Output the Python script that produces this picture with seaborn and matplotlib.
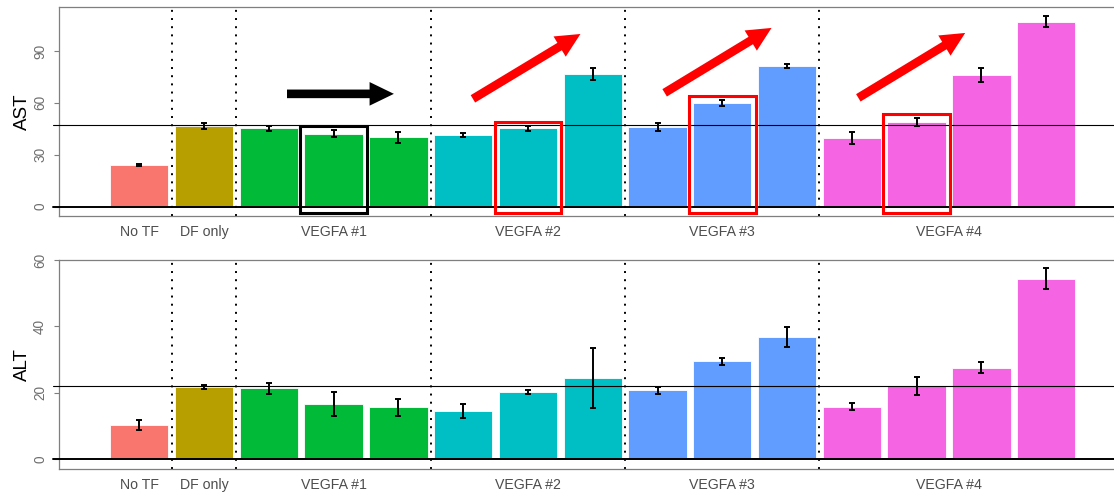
import numpy as np
import pandas as pd
import matplotlib
matplotlib.use("Agg")
import matplotlib.pyplot as plt
from matplotlib.patches import Rectangle
import seaborn as sns

# Treatment groups and the bars belonging to each
groups = ["No TF", "DF only", "VEGFA #1", "VEGFA #2", "VEGFA #3", "VEGFA #4"]
bar_group = ["No TF", "DF only",
             "VEGFA #1", "VEGFA #1", "VEGFA #1",
             "VEGFA #2", "VEGFA #2", "VEGFA #2",
             "VEGFA #3", "VEGFA #3", "VEGFA #3",
             "VEGFA #4", "VEGFA #4", "VEGFA #4", "VEGFA #4"]
bar_ids = ["No TF", "DF only",
           "V1-1", "V1-2", "V1-3",
           "V2-1", "V2-2", "V2-3",
           "V3-1", "V3-2", "V3-3",
           "V4-1", "V4-2", "V4-3", "V4-4"]

# Measured means and error half-widths
ast_mean = [24.0, 46.6, 45.4, 42.1, 40.0, 41.5, 45.2, 76.5, 46.2, 60.0, 81.2, 39.8, 49.0, 76.0, 106.9]
ast_err = [0.5, 1.5, 1.5, 2.1, 3.0, 1.2, 1.3, 3.4, 2.2, 1.9, 1.3, 3.3, 2.2, 4.2, 3.3]
alt_mean = [10.2, 21.7, 21.3, 16.5, 15.5, 14.5, 20.1, 24.5, 20.7, 29.4, 36.8, 15.7, 22.0, 27.5, 54.3]
alt_err = [1.6, 0.6, 1.6, 3.55, 2.5, 2.05, 0.6, 9.05, 1.0, 1.15, 3.1, 1.0, 2.7, 1.6, 3.2]

# Reference levels (horizontal lines)
ast_ref = 47.2
alt_ref = 22.0

# Highlighted bars: (bar id, frame colour)
highlights = [("V1-2", "black"), ("V2-2", "red"), ("V3-2", "red"), ("V4-2", "red")]
# Trend arrows on the AST panel: (tail x, tail y, head x, head y, colour)
arrows = [(2.28, 65.2, 3.93, 65.2, "black"),
          (5.15, 62.3, 6.81, 99.8, "red"),
          (8.11, 65.8, 9.76, 103.3, "red"),
          (11.10, 62.9, 12.75, 100.4, "red")]

palette = dict(zip(groups, ["#F8766D", "#B79F00", "#00BA38", "#00BFC4", "#619CFF", "#F564E3"]))

df = pd.DataFrame({"bar": bar_ids, "group": bar_group,
                   "AST": ast_mean, "AST_err": ast_err,
                   "ALT": alt_mean, "ALT_err": alt_err})

sns.set_theme(style="white")
plt.rcParams["font.family"] = ["Liberation Sans", "DejaVu Sans"]

FRAME = "#7F7F7F"
TEXT = "#4D4D4D"

fig = plt.figure(figsize=(11.14, 4.92), dpi=100)
W, H = 1114, 492
ax_top = fig.add_axes([59 / W, 1 - 216 / H, 1067.5 / W, 209 / H])
ax_bot = fig.add_axes([59 / W, 1 - 468.7 / H, 1067.5 / W, 208.7 / H])

positions = np.arange(len(bar_ids))
tick_pos = [positions[np.array(bar_group) == g].mean() for g in groups]
boundaries = [i + 0.5 for i in range(len(bar_group) - 1) if bar_group[i] != bar_group[i + 1]]


def draw_panel(ax, col, ref, ylim, yticks):
    sns.barplot(data=df, x="bar", y=col, hue="group", order=bar_ids, hue_order=groups,
                palette=palette, dodge=False, width=0.9, saturation=1, errorbar=None,
                legend=False, edgecolor="white", linewidth=0.6, ax=ax, zorder=2)
    ax.errorbar(positions, df[col], yerr=df[col + "_err"], fmt="none", ecolor="black",
                elinewidth=1.4, capsize=2.2, capthick=1.4, zorder=4)
    for b in boundaries:
        ax.axvline(b, color="black", linestyle=(0, (1, 3.2)), linewidth=1.4, zorder=1)
    ax.axhline(0, xmin=-0.0055, xmax=1, color="black", linewidth=1.4, clip_on=False, zorder=3)
    ax.axhline(ref, xmin=-0.0055, xmax=1, color="black", linewidth=0.8, clip_on=False, zorder=3)
    ax.set_xlim(-1.24, 15.24)
    ax.set_ylim(*ylim)
    ax.set_yticks(yticks)
    ax.set_yticklabels([str(t) for t in yticks], rotation=90, va="center")
    ax.set_xticks(tick_pos)
    ax.set_xticklabels(groups)
    ax.set_xlabel("")
    ax.set_ylabel(col, fontsize=13.5, color="black")
    ax.yaxis.set_label_coords(-0.0262, 0.5)
    ax.tick_params(axis="x", length=0, pad=6.5, labelsize=10.2, labelcolor=TEXT)
    ax.tick_params(axis="y", length=3.6, width=0.8, color=FRAME, pad=5.0,
                   labelsize=9.8, labelcolor="#6E6E6E", left=True)
    for side in ["top", "left", "bottom"]:
        ax.spines[side].set_visible(True)
        ax.spines[side].set_color(FRAME)
        ax.spines[side].set_linewidth(0.9)
    ax.spines["right"].set_visible(False)


draw_panel(ax_top, "AST", ast_ref, (-5.4, 115.4), [0, 30, 60, 90])
draw_panel(ax_bot, "ALT", alt_ref, (-3.0, 60.0), [0, 20, 40, 60])

# Frames around the highlighted bars
for bar, color in highlights:
    i = bar_ids.index(bar)
    top = ast_mean[i] + ast_err[i] + 2.2
    ax_top.add_patch(Rectangle((i - 0.515, -3.75), 1.03, top + 3.75, fill=False,
                               edgecolor=color, linewidth=2.2, zorder=5, clip_on=False))

# Trend arrows
for x0, y0, x1, y1, color in arrows:
    ax_top.annotate("", xy=(x1, y1), xytext=(x0, y0),
                    arrowprops=dict(arrowstyle="simple,head_length=1.75,head_width=1.7,tail_width=0.62",
                                    mutation_scale=10, color=color, shrinkA=0, shrinkB=0,
                                    linewidth=0),
                    zorder=6)

fig.savefig("out.png", dpi=100)
